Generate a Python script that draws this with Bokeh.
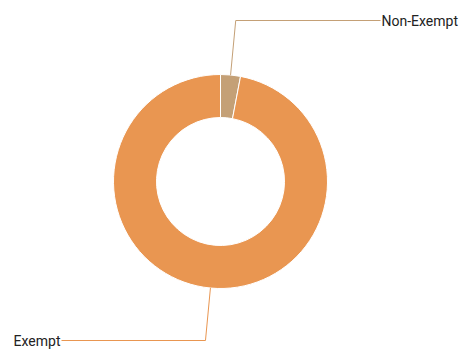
import math
from bokeh.plotting import figure
from bokeh.models import ColumnDataSource
from bokeh.core.properties import value
from bokeh.embed import file_html
from bokeh.resources import INLINE

categories = ["Non-Exempt", "Exempt"]
values = [3, 97]
colors = ["#C4A076", "#E99651"]

W, H = 463, 349
CX, CY = 220, 168
R_OUT, R_IN = 107, 64

total = sum(values)
starts, ends, mids = [], [], []
acc = 0.0
for v in values:
    a0 = math.pi / 2 - 2 * math.pi * acc / total
    acc += v
    a1 = math.pi / 2 - 2 * math.pi * acc / total
    starts.append(a1)
    ends.append(a0)
    mids.append((a0 + a1) / 2)

src = ColumnDataSource(dict(cat=categories, start=starts, end=ends, color=colors))

p = figure(width=W, height=H, x_range=(0, W), y_range=(0, H),
           output_backend="svg", toolbar_location=None, min_border=0)
p.axis.visible = False
p.grid.visible = False
p.outline_line_color = None
p.background_fill_color = "white"

p.annular_wedge(x=CX, y=CY, inner_radius=R_IN, outer_radius=R_OUT,
                start_angle="start", end_angle="end", direction="anticlock",
                fill_color="color", line_color="white", line_width=1, source=src)

# leader lines: radial from outer edge to a label level, then horizontal
label_y = [329, 9]
label_x = [380, 61]
for cat, m, col, ly, lx in zip(categories, mids, colors, label_y, label_x):
    x1 = CX + R_OUT * math.cos(m)
    y1 = CY + R_OUT * math.sin(m)
    r2 = (ly - CY) / math.sin(m)
    x2 = CX + r2 * math.cos(m)
    y2 = ly
    p.line([x1, x2, lx], [y1, y2, ly], line_color=col, line_width=1)
    align = "left" if lx > CX else "right"
    tx = lx + 1 if align == "left" else lx - 1
    p.text(x=[tx], y=[ly], text=[cat], text_align=align, text_baseline="middle",
           text_font=value("Roboto"), text_font_size="14px", text_color="#222222")

open("out.html", "w").write(file_html(p, INLINE))
